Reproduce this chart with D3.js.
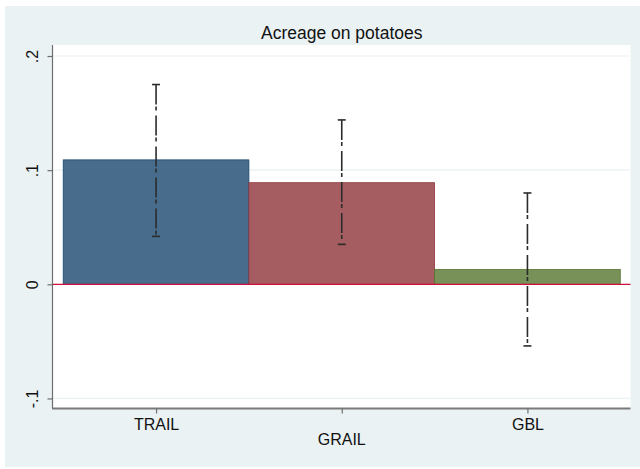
<!DOCTYPE html>
<html>
<head>
<meta charset="utf-8">
<script src="https://cdn.jsdelivr.net/npm/d3@7"></script>
<style>
  html, body { margin: 0; padding: 0; background: #ffffff; }
  svg { display: block; font-family: "Liberation Sans", Arial, sans-serif; }
</style>
</head>
<body>
<svg id="chart" width="640" height="469"></svg>
<script>
// Data
const categories = ["TRAIL", "GRAIL", "GBL"];
const xTickText  = ["TRAIL", "", "GBL"];
const means      = [0.109, 0.089, 0.013];
const ciLower    = [0.042, 0.035, -0.054];
const ciUpper    = [0.175, 0.144, 0.080];
const fills      = ["#486d8c", "#a65d62", "#779159"];
const outlines   = ["#1a476f", "#90353b", "#55752f"];
const yTicks     = [-0.1, 0, 0.1, 0.2];
const yTickText  = ["-.1", "0", ".1", ".2"];
const chartTitle = "Acreage on potatoes";
const xTitle     = "GRAIL";

const svg = d3.select("#chart");

// Outer graph region
svg.append("rect")
  .attr("x", 5).attr("y", 6).attr("width", 635).attr("height", 461)
  .attr("fill", "#eaf2f3");

// Plot region
const plotL = 53, plotR = 630.5, plotT = 45, plotB = 408;
svg.append("rect")
  .attr("x", plotL).attr("y", plotT)
  .attr("width", plotR - plotL).attr("height", plotB - plotT)
  .attr("fill", "#ffffff");

// Scales
const x = d3.scaleLinear().domain([0.445, 3.555]).range([plotL, plotR]);
const y = d3.scaleLinear().domain([0, 0.2]).range([284.3, 56]);

// Gridlines
svg.append("g")
  .selectAll("line")
  .data(yTicks.filter(v => v !== 0))
  .join("line")
  .attr("x1", plotL).attr("x2", plotR)
  .attr("y1", d => y(d)).attr("y2", d => y(d))
  .attr("stroke", "#eaf2f3").attr("stroke-width", 1.2);

// Bars
svg.append("g")
  .selectAll("rect")
  .data(categories)
  .join("rect")
  .attr("x", (d, i) => x(i + 1 - 0.5))
  .attr("width", (d, i) => x(i + 1.5) - x(i + 0.5))
  .attr("y", (d, i) => Math.min(y(means[i]), y(0)))
  .attr("height", (d, i) => Math.abs(y(0) - y(means[i])))
  .attr("fill", (d, i) => fills[i])
  .attr("stroke", (d, i) => outlines[i])
  .attr("stroke-width", 0.8);

// Reference line at zero
svg.append("line")
  .attr("x1", plotL).attr("x2", plotR)
  .attr("y1", y(0)).attr("y2", y(0))
  .attr("stroke", "#d0103a").attr("stroke-width", 1.2);

// Confidence intervals
const ci = svg.append("g").attr("stroke", "#2b2b2b");
categories.forEach((c, i) => {
  const cx = x(i + 1);
  ci.append("line")
    .attr("x1", cx).attr("x2", cx)
    .attr("y1", y(ciUpper[i])).attr("y2", y(ciLower[i]))
    .attr("stroke-width", 1.6)
    .attr("stroke-dasharray", "20,2,4,5");
  [ciUpper[i], ciLower[i]].forEach(v => {
    ci.append("line")
      .attr("x1", cx - 4).attr("x2", cx + 4)
      .attr("y1", y(v)).attr("y2", y(v))
      .attr("stroke-width", 1.6);
  });
});

// Y axis
const yAxis = d3.axisLeft(y)
  .tickValues(yTicks)
  .tickFormat((d, i) => yTickText[i])
  .tickSize(5)
  .tickPadding(0);
const gy = svg.append("g").attr("transform", `translate(${plotL - 0.5},0)`).call(yAxis);
gy.select(".domain").attr("d", `M0,${plotT}V${plotB}`).attr("stroke", "#6e6e6e").attr("stroke-width", 1.2);
gy.selectAll(".tick line").attr("stroke", "#6e6e6e").attr("stroke-width", 1.2);
gy.selectAll(".tick text")
  .attr("x", 0).attr("dy", 0)
  .attr("transform", "translate(-14.5,0) rotate(-90)")
  .attr("text-anchor", "middle")
  .attr("font-size", 16)
  .attr("font-family", "Liberation Sans, Arial, sans-serif")
  .attr("fill", "#111");

// X axis (the middle category is named by the axis title instead)
const xAxis = d3.axisBottom(x)
  .tickValues([1, 2, 3])
  .tickFormat((d, i) => xTickText[i])
  .tickSize(5)
  .tickPadding(5);
const gx = svg.append("g").attr("transform", `translate(0,${plotB + 0.5})`).call(xAxis);
gx.select(".domain").attr("d", `M${plotL - 1},0H${plotR}`).attr("stroke", "#7a7a7a").attr("stroke-width", 2);
gx.selectAll(".tick line").attr("stroke", "#6e6e6e").attr("stroke-width", 1.2);
gx.selectAll(".tick text")
  .attr("font-size", 16)
  .attr("font-family", "Liberation Sans, Arial, sans-serif")
  .attr("fill", "#111");

// Axis title
svg.append("text")
  .attr("x", x(2)).attr("y", 445)
  .attr("text-anchor", "middle")
  .attr("font-size", 16)
  .attr("fill", "#111")
  .text(xTitle);

// Chart title
svg.append("text")
  .attr("x", (plotL + plotR) / 2).attr("y", 38.5)
  .attr("text-anchor", "middle")
  .attr("font-size", 17.5)
  .attr("fill", "#111")
  .text(chartTitle);
</script>
</body>
</html>
